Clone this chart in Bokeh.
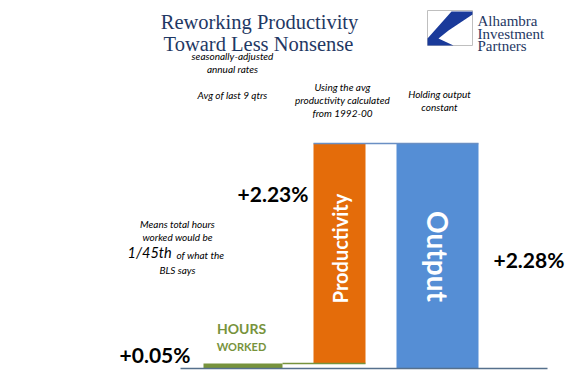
import math
from bokeh.plotting import figure
from bokeh.models import Range1d, ColumnDataSource
from bokeh.core.properties import value
from bokeh.embed import file_html
from bokeh.resources import INLINE

# ---- data ----
categories = ["Hours Worked", "Productivity", "Output"]
changes = [0.05, 2.23, 2.28]          # % annual rates
labels = ["+0.05%", "+2.23%", "+2.28%"]

# waterfall: hours + productivity = output
bottoms = [0.0, changes[0], 0.0]
tops = [changes[0], changes[0] + changes[1], changes[2]]

W, H = 568, 381
PX_PER_UNIT = 98.68
ZERO_PY = 368  # pixel row of value 0


def yd(py):
    """pixel row -> data units (for annotation placement)"""
    return (ZERO_PY - py) / PX_PER_UNIT


p = figure(width=W, height=H, output_backend="svg", toolbar_location=None,
           x_range=Range1d(0, W), y_range=Range1d(yd(H), yd(0)),
           min_border=0, min_border_left=0, min_border_right=0,
           min_border_top=0, min_border_bottom=0)
p.axis.visible = False
p.grid.visible = False
p.outline_line_color = None
p.background_fill_color = "white"
p.border_fill_color = "white"

colors = ["#77933c", "#e46c0a", "#558ed5"]
lefts = [203, 313, 396]
rights = [282, 365, 478]
src = ColumnDataSource(dict(left=lefts, right=rights, bottom=bottoms, top=tops,
                            color=colors, cat=categories))
p.quad(left="left", right="right", bottom="bottom", top="top",
       fill_color="color", line_color=None, source=src)

# connectors
p.segment(x0=[rights[0]], x1=[rights[1]], y0=[tops[0]], y1=[tops[0]],
          line_color="#77933c", line_width=1.5)
p.segment(x0=[lefts[1]], x1=[rights[2]], y0=[tops[1]], y1=[tops[1]],
          line_color="#6a8fc4", line_width=1.5)
# baseline
p.segment(x0=[180], x1=[547], y0=[0], y1=[0], line_color="#56708c", line_width=1.5)

serif = value("Liberation Serif")
sans = value("Lato")
navy = "#1f3864"


def txt(x, py, s, size, font=sans, style="normal", color="#000000",
        align="center", angle=0.0, baseline="middle"):
    p.text(x=[x], y=[yd(py)], text=[s], text_font=font, text_font_size=f"{size}px",
           text_font_style=style, text_color=color, text_align=align,
           text_baseline=baseline, angle=angle)


# title
txt(259, 21, "Reworking Productivity", 20.5, font=serif, color=navy, baseline="alphabetic")
txt(258, 43, "Toward Less Nonsense", 20.5, font=serif, color=navy, baseline="alphabetic")

# logo
p.quad(left=[427], right=[472], bottom=[yd(45)], top=[yd(10)],
       fill_color="white", line_color="#bfbfbf", line_width=1)
p.patch(x=[451, 472, 472, 448, 438, 453, 427, 427],
        y=[yd(py) for py in [11, 11, 14, 30, 38, 45, 45, 38]],
        fill_color="#1a3a9a", line_color=None)
txt(477, 20, "Alhambra", 15, font=serif, color=navy, align="left", baseline="alphabetic")
txt(477, 33, "Investment", 15, font=serif, color=navy, align="left", baseline="alphabetic")
txt(477, 45, "Partners", 15, font=serif, color=navy, align="left", baseline="alphabetic")

# notes
txt(232, 55, "seasonally-adjusted", 10, style="italic")
txt(232, 68, "annual rates", 10, style="italic")
txt(232, 94, "Avg of last 9 qtrs", 10, style="italic")
txt(342, 86, "Using the avg", 10, style="italic")
txt(342, 99, "productivity calculated", 10, style="italic")
txt(342, 112, "from 1992-00", 10, style="italic")
txt(439, 93, "Holding output", 10, style="italic")
txt(439, 106, "constant", 10, style="italic")

txt(177, 223, "Means total hours", 10, style="italic")
txt(177, 236, "worked would be", 10, style="italic")
txt(127, 252, "1/45th", 14.5, style="italic", align="left")
txt(176, 254, "of what the", 10, style="italic", align="left")
txt(177, 269, "BLS says", 10, style="italic")

# category labels
txt(241, 328, "HOURS", 14, style="bold", color="#77933c")
txt(241, 346, "WORKED", 11, style="bold", color="#77933c")
txt((lefts[1] + rights[1]) / 2, 248, categories[1], 20, style="bold",
    color="white", angle=math.pi / 2)
txt((lefts[2] + rights[2]) / 2, 256, categories[2], 28, style="bold",
    color="white", angle=-math.pi / 2)

# value labels
txt(190, 354, labels[0], 21, style="bold", align="right")
txt(308, 193, labels[1], 21, style="bold", align="right")
txt(493, 259, labels[2], 21, style="bold", align="left")

open("out.html", "w").write(file_html(p, INLINE))
